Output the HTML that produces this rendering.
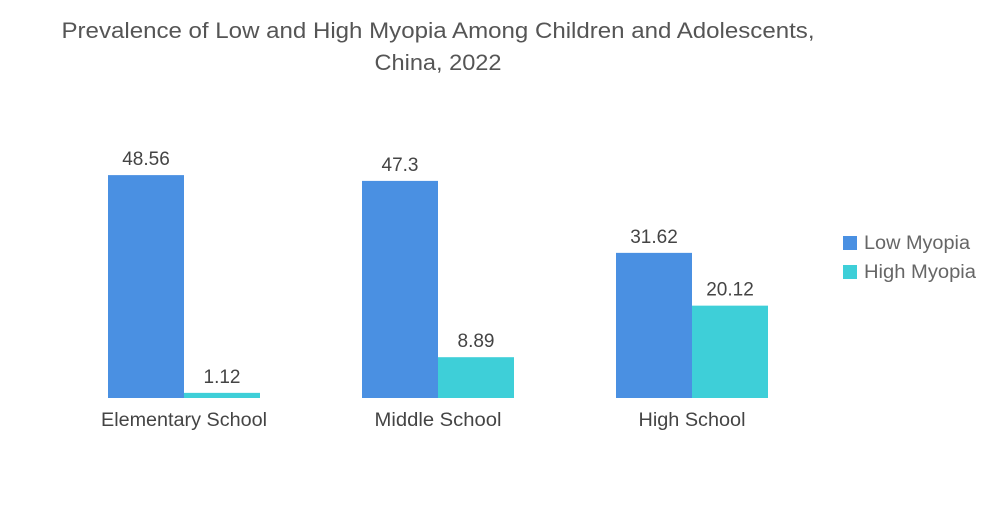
<!DOCTYPE html>
<html><head><meta charset="utf-8"><style>
body{margin:0;background:#fff;}
svg text{font-family:"Liberation Sans",sans-serif;}
</style></head><body>
<svg id="c" width="1000" height="504">
<text x="438" y="38" text-anchor="middle" font-size="22" fill="#555" textLength="753" lengthAdjust="spacingAndGlyphs">Prevalence of Low and High Myopia Among Children and Adolescents,</text>
<text x="438" y="70" text-anchor="middle" font-size="22" fill="#555" textLength="127" lengthAdjust="spacingAndGlyphs">China, 2022</text>
<g id="bars"></g>
<rect x="843" y="236" width="14" height="14" fill="#4a90e2"/>
<text x="864" y="249" font-size="19" fill="#666" textLength="106" lengthAdjust="spacingAndGlyphs">Low Myopia</text>
<rect x="843" y="265" width="14" height="14" fill="#3ecfd8"/>
<text x="864" y="278" font-size="19" fill="#666" textLength="112" lengthAdjust="spacingAndGlyphs">High Myopia</text>
</svg>
<script>
const categories=["Elementary School","Middle School","High School"];
const lowMyopia=[48.56,47.3,31.62];
const highMyopia=[1.12,8.89,20.12];
const labelsLow=["48.56","47.3","31.62"];
const labelsHigh=["1.12","8.89","20.12"];
const catWidths=[166,127,107];
const base=398, scale=4.59, bw=76;
function xc(i){return 184+i*254;}
function y(v){return base-v*scale;}
const g=document.getElementById('bars');
const ns="http://www.w3.org/2000/svg";
function bar(x,v,color,label,name){
  const r=document.createElementNS(ns,'rect');
  r.setAttribute('x',x);r.setAttribute('y',y(v));r.setAttribute('width',bw);r.setAttribute('height',v*scale);r.setAttribute('fill',color);
  
  
  g.appendChild(r);
  const t=document.createElementNS(ns,'text');
  t.setAttribute('x',x+bw/2);t.setAttribute('y',y(v)-10);t.setAttribute('text-anchor','middle');t.setAttribute('font-size','19');t.setAttribute('fill','#444');
  t.textContent=label;
  
  
  g.appendChild(t);
}
categories.forEach((c,i)=>{
  bar(xc(i)-bw,lowMyopia[i],'#4a90e2',labelsLow[i],'bar-low-'+i);
  bar(xc(i),highMyopia[i],'#3ecfd8',labelsHigh[i],'bar-high-'+i);
  const t=document.createElementNS(ns,'text');
  t.setAttribute('x',xc(i));t.setAttribute('y',426);t.setAttribute('text-anchor','middle');t.setAttribute('font-size','19');t.setAttribute('fill','#444');
  t.setAttribute('textLength',catWidths[i]);t.setAttribute('lengthAdjust','spacingAndGlyphs');
  t.textContent=c;
  
  
  g.appendChild(t);
});
</script>
</body></html>
